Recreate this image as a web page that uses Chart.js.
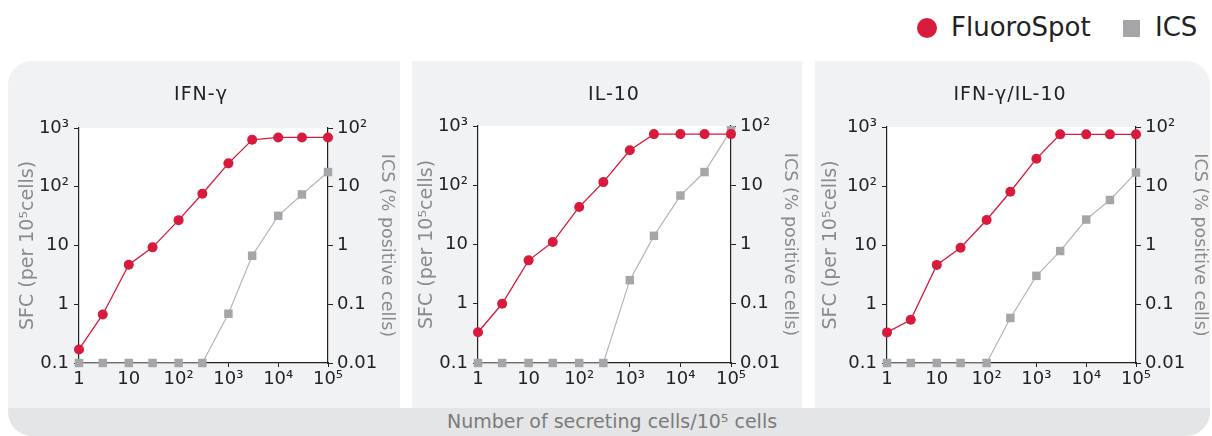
<!DOCTYPE html>
<html>
<head>
<meta charset="utf-8">
<script src="https://cdn.jsdelivr.net/npm/chart.js@4.4.1/dist/chart.umd.min.js"></script>
<style>
  html, body { margin: 0; padding: 0; background: #ffffff; }
  body { width: 1212px; height: 436px; position: relative; overflow: hidden; font-family: "DejaVu Sans", sans-serif; }
  #frame { position: absolute; left: 8px; top: 61px; width: 1202px; height: 375px; border-radius: 24px; overflow: hidden; background: #ffffff; }
  .panel { position: absolute; top: 0; height: 347px; background: #f1f2f4; }
  #strip { position: absolute; left: 0; top: 347px; width: 1202px; height: 28px; background: #e4e5e7; }
  canvas { position: absolute; }
  .ptitle { position: absolute; width: 240px; text-align: center; font-size: 19px; letter-spacing: 1px; line-height: 22px; color: #222; top: 82px; }
  #xlabel { position: absolute; left: 312px; width: 600px; text-align: center; top: 411px; font-size: 19px; line-height: 21px; color: #7b7b7b; }
  .leg { position: absolute; font-size: 26px; line-height: 30px; color: #222; top: 12px; }
</style>
</head>
<body>
<div id="frame">
  <div class="panel" style="left:0; width:392px;"></div>
  <div class="panel" style="left:404px; width:390px;"></div>
  <div class="panel" style="left:807px; width:395px;"></div>
  <div id="strip"></div>
</div>
<canvas id="c1" width="392" height="347" style="left:8px; top:61px;"></canvas>
<canvas id="c2" width="390" height="347" style="left:412px; top:61px;"></canvas>
<canvas id="c3" width="395" height="347" style="left:815px; top:61px;"></canvas>

<div class="ptitle" style="left:81px;">IFN-γ</div>
<div class="ptitle" style="left:494px;">IL-10</div>
<div class="ptitle" style="left:890px;">IFN-γ/IL-10</div>
<div id="xlabel">Number of secreting cells/10⁵ cells</div>

<div style="position:absolute; left:917px; top:18px; width:20px; height:20px; border-radius:50%; background:#d81b3c;"></div>
<div class="leg" style="left:951px;">FluoroSpot</div>
<div style="position:absolute; left:1123px; top:20px; width:17px; height:17px; background:#a5a6a9;"></div>
<div class="leg" style="left:1155px;">ICS</div>

<script>
// Categories: number of secreting cells per 10^5 cells
const cells = [1, 3, 10, 30, 100, 300, 1000, 3000, 10000, 30000, 100000];

// FluoroSpot (SFC per 10^5 cells) and ICS (% positive cells)
const ifnFluoro  = [0.17, 0.67, 4.7, 9.3, 27, 76, 250, 630, 690, 690, 690];
const ifnIcs     = [0.01, 0.01, 0.01, 0.01, 0.01, 0.01, 0.069, 0.67, 3.2, 7.4, 17.8];
const il10Fluoro = [0.33, 1.0, 5.4, 11, 43, 113, 390, 730, 730, 730, 730];
const il10Ics    = [0.01, 0.01, 0.01, 0.01, 0.01, 0.01, 0.25, 1.4, 6.7, 16.7, 85];
const dualFluoro = [0.33, 0.54, 4.6, 9.0, 26.5, 80, 290, 750, 750, 750, 750];
const dualIcs    = [0.01, 0.01, 0.01, 0.01, 0.01, 0.058, 0.30, 0.79, 2.7, 5.8, 16.9];

// Tick values and labels
const xTickValues   = [1, 10, 100, 1000, 10000, 100000];
const xTickLabels   = ['1', '10', '10²', '10³', '10⁴', '10⁵'];
const sfcTickValues = [0.1, 1, 10, 100, 1000];
const sfcTickLabels = ['0.1', '1', '10', '10²', '10³'];
const icsTickValues = [0.01, 0.1, 1, 10, 100];
const icsTickLabels = ['0.01', '0.1', '1', '10', '10²'];

const RED = '#d81b3c';
const GREY = '#a5a6a9';
const GREY_LINE = '#b4b5b7';
const INK = '#222222';
const AXIS_TITLE = '#8a8a8a';
const FONT = 'DejaVu Sans';

const whiteArea = {
  id: 'whiteArea',
  beforeDraw(chart) {
    const a = chart.chartArea, ctx = chart.ctx;
    ctx.save();
    ctx.fillStyle = '#ffffff';
    ctx.fillRect(a.left, a.top, a.right - a.left, a.bottom - a.top);
    ctx.restore();
  }
};

function pts(ys) { return cells.map((x, i) => ({ x: x, y: ys[i] })); }

function makePanel(id, fluoro, ics, g) {
  new Chart(document.getElementById(id), {
    type: 'line',
    data: {
      datasets: [
        { label: 'FluoroSpot', data: pts(fluoro), yAxisID: 'sfc',
          borderColor: RED, backgroundColor: RED, borderWidth: 1.3,
          pointStyle: 'circle', pointRadius: 5, pointBorderWidth: 0, pointHoverRadius: 5,
          tension: 0, clip: false },
        { label: 'ICS', data: pts(ics), yAxisID: 'ics',
          borderColor: GREY_LINE, backgroundColor: GREY, borderWidth: 1.2,
          pointStyle: 'rect', pointRadius: 6, pointBorderWidth: 0, pointHoverRadius: 6,
          tension: 0, clip: false }
      ]
    },
    options: {
      responsive: false, animation: false, devicePixelRatio: 1,
      layout: { padding: { top: g.top, left: 0, right: 0, bottom: 0 } },
      plugins: { legend: { display: false }, tooltip: { enabled: false }, title: { display: false } },
      events: [],
      scales: {
        x: {
          type: 'logarithmic', position: 'bottom', min: 1, max: 100000,
          afterBuildTicks: s => { s.ticks = xTickValues.map(v => ({ value: v })); },
          afterFit: s => { s.height = g.bottom; },
          ticks: { callback: (v, i) => xTickLabels[i], font: { family: FONT, size: 18 }, color: INK,
                   padding: 2, maxRotation: 0, autoSkip: false },
          grid: { drawOnChartArea: false, drawTicks: true, tickLength: 4, color: INK, lineWidth: 1 },
          border: { display: true, color: INK, width: 1.2 }
        },
        sfc: {
          type: 'logarithmic', position: 'left', min: 0.1, max: 1000,
          afterBuildTicks: s => { s.ticks = sfcTickValues.map(v => ({ value: v })); },
          afterFit: s => { s.width = g.left; },
          ticks: { callback: (v, i) => sfcTickLabels[i], font: { family: FONT, size: 18 }, color: INK,
                   padding: 5, autoSkip: false },
          grid: { drawOnChartArea: false, drawTicks: true, tickLength: 5, color: INK, lineWidth: 1 },
          border: { display: true, color: INK, width: 1.2 },
          title: { display: true, text: 'SFC (per 10⁵cells)', color: AXIS_TITLE,
                   font: { family: FONT, size: 19 }, padding: { top: g.lpad, bottom: 0 } }
        },
        ics: {
          type: 'logarithmic', position: 'right', min: 0.01, max: 100,
          afterBuildTicks: s => { s.ticks = icsTickValues.map(v => ({ value: v })); },
          afterFit: s => { s.width = g.right; },
          ticks: { callback: (v, i) => icsTickLabels[i], font: { family: FONT, size: 18 }, color: INK,
                   padding: 4, autoSkip: false },
          grid: { drawOnChartArea: false, drawTicks: true, tickLength: 5, color: INK, lineWidth: 1 },
          border: { display: true, color: INK, width: 1.2 },
          title: { display: true, text: 'ICS (% positive cells)', color: AXIS_TITLE,
                   font: { family: FONT, size: 17.5 }, padding: { top: g.rpad, bottom: 0 } }
        }
      }
    },
    plugins: [whiteArea]
  });
}

makePanel('c1', ifnFluoro,  ifnIcs,  { top: 67, bottom: 45, left: 71, right: 72, lpad: 8.5, rpad: 2.5 });
makePanel('c2', il10Fluoro, il10Ics, { top: 65, bottom: 45, left: 66, right: 71, lpad: 3.3, rpad: 1.5 });
makePanel('c3', dualFluoro, dualIcs, { top: 66, bottom: 45, left: 72, right: 74, lpad: 4.6, rpad: 0 });
</script>
</body>
</html>
